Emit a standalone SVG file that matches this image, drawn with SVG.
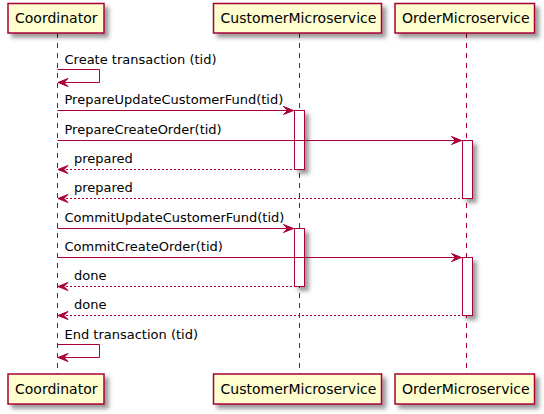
<svg xmlns="http://www.w3.org/2000/svg" width="544" height="414" viewBox="0 0 544 414">
<defs>
<filter id="sh" x="-1" y="-1" width="300%" height="300%">
<feGaussianBlur in="SourceAlpha" stdDeviation="2" result="b"/>
<feColorMatrix in="b" type="matrix" values="0 0 0 0 0 0 0 0 0 0 0 0 0 0 0 0 0 0 .4 0" result="b2"/>
<feOffset in="b2" dx="4" dy="4" result="b3"/>
<feBlend in="SourceGraphic" in2="b3" mode="normal"/>
</filter>
<style>
.life{stroke:#A80036;stroke-width:1;stroke-dasharray:5,5;fill:none}
.part{fill:#FEFECE;stroke:#A80036;stroke-width:1.5}
.act{fill:#FFFFFF;stroke:#A80036;stroke-width:1}
.pt{font-family:"DejaVu Sans",sans-serif;font-size:14px;fill:#000}
.msg{font-family:"DejaVu Sans",sans-serif;font-size:13px;fill:#000}
.ln{stroke:#A80036;stroke-width:1;fill:none}
.dash{stroke:#A80036;stroke-width:1;fill:none;stroke-dasharray:2,2}
.ah{fill:#A80036;stroke:#A80036;stroke-width:1}
</style>
</defs>
<g id="lifelines">
<line class="life" x1="57.5" y1="33" x2="57.5" y2="374"/>
<line class="life" x1="299.5" y1="33" x2="299.5" y2="374"/>
<line class="life" x1="466.5" y1="33" x2="466.5" y2="374"/>
</g>
<g id="Coordinator">
<rect class="part" x="8" y="3.5" width="96" height="29.5" filter="url(#sh)"/>
<text class="pt" x="15" y="22.7">Coordinator</text>
<rect class="part" x="8" y="374" width="96" height="30" filter="url(#sh)"/>
<text class="pt" x="15" y="393.7">Coordinator</text>
</g>
<g id="CustomerMicroservice">
<rect class="part" x="213.5" y="3.5" width="168" height="29.5" filter="url(#sh)"/>
<text class="pt" x="220.5" y="22.7">CustomerMicroservice</text>
<rect class="part" x="213.5" y="374" width="168" height="30" filter="url(#sh)"/>
<text class="pt" x="220.5" y="393.7">CustomerMicroservice</text>
<rect class="act" x="294.5" y="110.5" width="10" height="59" filter="url(#sh)"/>
<rect class="act" x="294.5" y="228.5" width="10" height="58" filter="url(#sh)"/>
</g>
<g id="OrderMicroservice">
<rect class="part" x="395" y="3.5" width="139.5" height="29.5" filter="url(#sh)"/>
<text class="pt" x="402" y="22.7">OrderMicroservice</text>
<rect class="part" x="395" y="374" width="139.5" height="30" filter="url(#sh)"/>
<text class="pt" x="402" y="393.7">OrderMicroservice</text>
<rect class="act" x="462.5" y="140.5" width="10" height="58" filter="url(#sh)"/>
<rect class="act" x="462.5" y="257.5" width="10" height="58" filter="url(#sh)"/>
</g>
<g id="connectors">
<polyline class="ln" points="57.5,69.5 99.5,69.5 99.5,82.5 58,82.5"/>
<polygon class="ah" points="68,78.5 58,82.5 68,86.5 64,82.5"/>
<text class="msg" x="64.5" y="63.5">Create transaction (tid)</text>

<line class="ln" x1="57.5" y1="110.5" x2="293.5" y2="110.5"/>
<polygon class="ah" points="283.5,106.5 293.5,110.5 283.5,114.5 287.5,110.5"/>
<text class="msg" x="64.5" y="104">PrepareUpdateCustomerFund(tid)</text>

<line class="ln" x1="57.5" y1="140.5" x2="461.5" y2="140.5"/>
<polygon class="ah" points="451.5,136.5 461.5,140.5 451.5,144.5 455.5,140.5"/>
<text class="msg" x="64.5" y="133.8">PrepareCreateOrder(tid)</text>

<line class="dash" x1="58" y1="169.5" x2="294.5" y2="169.5"/>
<polygon class="ah" points="68,165.5 58,169.5 68,173.5 64,169.5"/>
<text class="msg" x="74" y="162.8">prepared</text>

<line class="dash" x1="58" y1="198.5" x2="462.5" y2="198.5"/>
<polygon class="ah" points="68,194.5 58,198.5 68,202.5 64,198.5"/>
<text class="msg" x="74" y="191.8">prepared</text>

<line class="ln" x1="57.5" y1="228.5" x2="293.5" y2="228.5"/>
<polygon class="ah" points="283.5,224.5 293.5,228.5 283.5,232.5 287.5,228.5"/>
<text class="msg" x="64.5" y="221.8">CommitUpdateCustomerFund(tid)</text>

<line class="ln" x1="57.5" y1="257.5" x2="461.5" y2="257.5"/>
<polygon class="ah" points="451.5,253.5 461.5,257.5 451.5,261.5 455.5,257.5"/>
<text class="msg" x="64.5" y="250.8">CommitCreateOrder(tid)</text>

<line class="dash" x1="58" y1="286.5" x2="294.5" y2="286.5"/>
<polygon class="ah" points="68,282.5 58,286.5 68,290.5 64,286.5"/>
<text class="msg" x="74" y="279.8">done</text>

<line class="dash" x1="58" y1="315.5" x2="462.5" y2="315.5"/>
<polygon class="ah" points="68,311.5 58,315.5 68,319.5 64,315.5"/>
<text class="msg" x="74" y="308.8">done</text>

<polyline class="ln" points="57.5,344.5 99.5,344.5 99.5,357.5 58,357.5"/>
<polygon class="ah" points="68,353.5 58,357.5 68,361.5 64,357.5"/>
<text class="msg" x="64.5" y="338.5">End transaction (tid)</text>
</g>
</svg>
